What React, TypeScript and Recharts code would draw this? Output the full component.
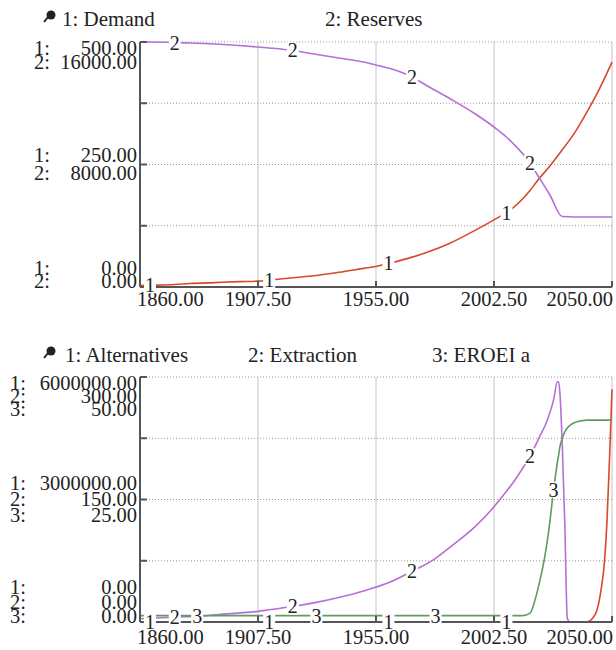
import React from 'react';
import { LineChart, Line, XAxis, YAxis, CartesianGrid, Legend } from 'recharts';

const FONT = 'Liberation Serif';
const RED = '#d9482c';
const PURPLE = '#b56fd6';
const GREEN = '#5f9c5f';
const AXIS = '#555';

const xTicks = [1860, 1907.5, 1955, 2002.5, 2050];

// ---- top panel ----
const topNames = ['Demand', 'Reserves'];
const topMax = [500, 16000];
const topYears = [1860, 1864, 1874, 1880, 1890, 1900, 1907.5, 1912, 1921.5, 1930, 1940, 1950, 1955, 1960, 1969.5, 1975, 1985, 1995, 2002.5, 2007.5, 2010, 2017, 2020, 2025, 2030, 2035, 2040, 2045, 2050];
const demand = [3, 3.5, 5, 7, 9, 11, 12, 14, 19, 23, 30, 38, 42, 48, 61, 70, 90, 116, 137, 152, 161, 197, 217, 247, 280, 315, 358, 405, 459];
const reserves = [16000, 16000, 15967, 15935, 15869, 15771, 15673, 15608, 15445, 15216, 14955, 14694, 14498, 14302, 13714, 13192, 12278, 11298, 10449, 9796, 9404, 8098, 7314, 6008, 4600, 4571, 4571, 4571, 4571];

// ---- bottom panel ----
const botNames = ['Alternatives', 'Extraction', 'EROEI a'];
const botMax = [6000000, 300, 50];
const botYears = [1860, 1864, 1874, 1883, 1895, 1907.5, 1912, 1921.5, 1931, 1940, 1950, 1960, 1969.5, 1979, 1985, 1995, 2002.5, 2007.5, 2010, 2014, 2017, 2019, 2021, 2023, 2024.5, 2026.5, 2028, 2028.5, 2029, 2030, 2031, 2032, 2033, 2035, 2038, 2040, 2042, 2044, 2045.5, 2047, 2048, 2049, 2050];
const alternatives = [0, 0, 0, 0, 0, 0, 0, 0, 0, 0, 0, 0, 0, 0, 0, 0, 0, 0, 0, 0, 0, 0, 0, 0, 0, 0, 0, 0, 0, 0, 0, 0, 0, 0, 0, 0, 80000, 300000, 750000, 1500000, 2500000, 4000000, 5700000];
const extraction = [4, 4.5, 6, 7, 10, 13, 15, 19, 24, 30, 38, 48, 62, 78, 92, 117, 141, 160, 170, 188, 203, 215, 228, 240, 252, 272, 294, 294, 282, 215, 120, 5, 0, 0, 0, 0, 0, 0, 0, 0, 0, 0, 0];
const eroei = [1.3, 1.3, 1.3, 1.3, 1.3, 1.3, 1.3, 1.3, 1.3, 1.3, 1.3, 1.3, 1.3, 1.3, 1.3, 1.3, 1.3, 1.3, 1.3, 1.3, 1.8, 4.5, 8.5, 13.5, 18.5, 27, 32.5, 34, 35.7, 37.5, 38.8, 39.6, 40.1, 40.7, 41.1, 41.2, 41.2, 41.2, 41.2, 41.2, 41.2, 41.2, 41.2];

// ---- curve number markers ----
const label1Years = [1864, 1912, 1960, 2007.5];
const label2Years = [1874, 1921.5, 1969.5, 2017];
const label3Years = [1883, 1931, 1979, 2026.5];

const topData = topYears.map((year, i) => ({ year, demand: demand[i], reserves: reserves[i] }));
const botData = botYears.map((year, i) => ({ year, alternatives: alternatives[i], extraction: extraction[i], eroei: eroei[i] }));

const makeLabel = (num: string, years: number[], data: { year: number }[]) => (props: any) => {
  const { x, y, index } = props;
  if (index == null || !data[index] || !years.includes(data[index].year)) return <g key={`l${num}-${index}`} />;
  return (
    <g key={`l${num}-${index}`}>
      <rect x={x - 6} y={y - 8} width={12} height={16} fill="#fff" />
      <text x={x} y={y + 7} textAnchor="middle" fontFamily={FONT} fontSize={20} fill="#222">{num}</text>
    </g>
  );
};

const YTick = (props: any) => {
  const { x, y, payload, maxes, prefixX, steps } = props;
  const frac = payload.value / maxes[0];
  const n = maxes.length;
  const labelled = frac === 0 || frac === 0.5 || frac === 1;
  let baselines: number[];
  if (frac === 1) baselines = maxes.map((_: number, i: number) => y + 13 + i * steps[0]);
  else if (frac === 0.5) baselines = maxes.map((_: number, i: number) => y + 6 - ((n - 1) * steps[1]) / 2 + i * steps[1]);
  else baselines = maxes.map((_: number, i: number) => y + 1 - (n - 1 - i) * steps[2]);
  return (
    <g>
      {frac > 0 && <line x1={x} x2={x + 7} y1={y} y2={y} stroke={AXIS} strokeWidth={2} />}
      {labelled &&
        maxes.map((m: number, i: number) => (
          <g key={i}>
            <text x={prefixX} y={baselines[i]} fontFamily={FONT} fontSize={20.5} fill="#222">{`${i + 1}:`}</text>
            <text x={x - 3} y={baselines[i]} textAnchor="end" fontFamily={FONT} fontSize={20.5} fill="#222">{(m * frac).toFixed(2)}</text>
          </g>
        ))}
    </g>
  );
};

const XTick = (props: any) => {
  const { x, y, payload, index, dy } = props;
  const last = xTicks.length - 1;
  const anchor = index === 0 ? 'start' : index === last ? 'end' : 'middle';
  const tx = index === 0 ? x - 3 : index === last ? x + 1 : x;
  return (
    <g>
      <line x1={x} x2={x} y1={y} y2={y - 6} stroke={AXIS} strokeWidth={2} />
      <text x={tx} y={y + dy} textAnchor={anchor} fontFamily={FONT} fontSize={20.5} fill="#222">{Number(payload.value).toFixed(2)}</text>
    </g>
  );
};

const Pin = ({ x, y }: { x: number; y: number }) => (
  <g>
    <line x1={x + 4} y1={y + 6} x2={x} y2={y + 11} stroke="#222" strokeWidth={2} />
    <circle cx={x + 7} cy={y + 4} r={4.5} fill="#222" />
  </g>
);

const makeLegend = (names: string[], xs: number[], baseline: number) => () => (
  <svg width={616} height={baseline + 8} style={{ display: 'block' }}>
    <Pin x={44} y={baseline - 15} />
    {names.map((nm, i) => (
      <text key={i} x={xs[i]} y={baseline} fontFamily={FONT} fontSize={21} fill="#222">{`${i + 1}: ${nm}`}</text>
    ))}
  </svg>
);

export default function App() {
  return (
    <div style={{ position: 'absolute', left: 0, top: 0, width: 616, height: 650, background: '#fff' }}>
      <div style={{ position: 'absolute', left: 0, top: 0 }}>
        <LineChart width={616} height={310} data={topData} margin={{ top: 42, right: 4, left: 0, bottom: 0 }}>
          <CartesianGrid horizontal={false} stroke="#c4c4c4" />
          <CartesianGrid vertical={false} stroke="#9a9a9a" strokeDasharray="1 2" />
          <XAxis dataKey="year" type="number" domain={[1860, 2050]} ticks={xTicks} interval={0} height={23}
            tickSize={0} tickMargin={0} axisLine={{ stroke: AXIS, strokeWidth: 2 }} tickLine={false}
            tick={(p: any) => <XTick {...p} dy={19} />} />
          <YAxis domain={[0, topMax[0]]} ticks={[0, 125, 250, 375, 500]} interval={0} width={140}
            tickSize={0} tickMargin={0} axisLine={{ stroke: AXIS, strokeWidth: 2 }} tickLine={false}
            tick={(p: any) => <YTick {...p} maxes={topMax} prefixX={34} steps={[14, 18, 13]} />} />
          <YAxis yAxisId="r" domain={[0, topMax[1]]} hide />
          <Legend verticalAlign="middle" align="center" layout="horizontal"
            wrapperStyle={{ top: 0, left: 0, width: 616 }} content={makeLegend(topNames, [62, 325], 26)} />
          <Line type="monotone" dataKey="demand" name={topNames[0]} stroke={RED} strokeWidth={1.6} dot={false}
            isAnimationActive={false} label={makeLabel('1', label1Years, topData)} />
          <Line type="monotone" yAxisId="r" dataKey="reserves" name={topNames[1]} stroke={PURPLE} strokeWidth={1.6} dot={false}
            isAnimationActive={false} label={makeLabel('2', label2Years, topData)} />
        </LineChart>
      </div>
      <div style={{ position: 'absolute', left: 0, top: 310 }}>
        <LineChart width={616} height={340} data={botData} margin={{ top: 67, right: 4, left: 0, bottom: 0 }}>
          <CartesianGrid horizontal={false} stroke="#c4c4c4" />
          <CartesianGrid vertical={false} stroke="#9a9a9a" strokeDasharray="1 2" />
          <XAxis dataKey="year" type="number" domain={[1860, 2050]} ticks={xTicks} interval={0} height={28}
            tickSize={0} tickMargin={0} axisLine={{ stroke: AXIS, strokeWidth: 2 }} tickLine={false}
            tick={(p: any) => <XTick {...p} dy={22} />} />
          <YAxis domain={[0, botMax[0]]} ticks={[0, 1500000, 3000000, 4500000, 6000000]} interval={0} width={140}
            tickSize={0} tickMargin={0} axisLine={{ stroke: AXIS, strokeWidth: 2 }} tickLine={false}
            tick={(p: any) => <YTick {...p} maxes={botMax} prefixX={10} steps={[13, 16, 14.5]} />} />
          <YAxis yAxisId="e" domain={[0, botMax[1]]} hide />
          <YAxis yAxisId="g" domain={[0, botMax[2]]} hide />
          <Legend verticalAlign="middle" align="center" layout="horizontal"
            wrapperStyle={{ top: 0, left: 0, width: 616 }} content={makeLegend(botNames, [65, 248, 432], 52)} />
          <Line type="monotone" dataKey="alternatives" name={botNames[0]} stroke={RED} strokeWidth={1.6} dot={false}
            isAnimationActive={false} label={makeLabel('1', label1Years, botData)} />
          <Line type="monotone" yAxisId="e" dataKey="extraction" name={botNames[1]} stroke={PURPLE} strokeWidth={1.6} dot={false}
            isAnimationActive={false} label={makeLabel('2', label2Years, botData)} />
          <Line type="monotone" yAxisId="g" dataKey="eroei" name={botNames[2]} stroke={GREEN} strokeWidth={1.6} dot={false}
            isAnimationActive={false} label={makeLabel('3', label3Years, botData)} />
        </LineChart>
      </div>
    </div>
  );
}
